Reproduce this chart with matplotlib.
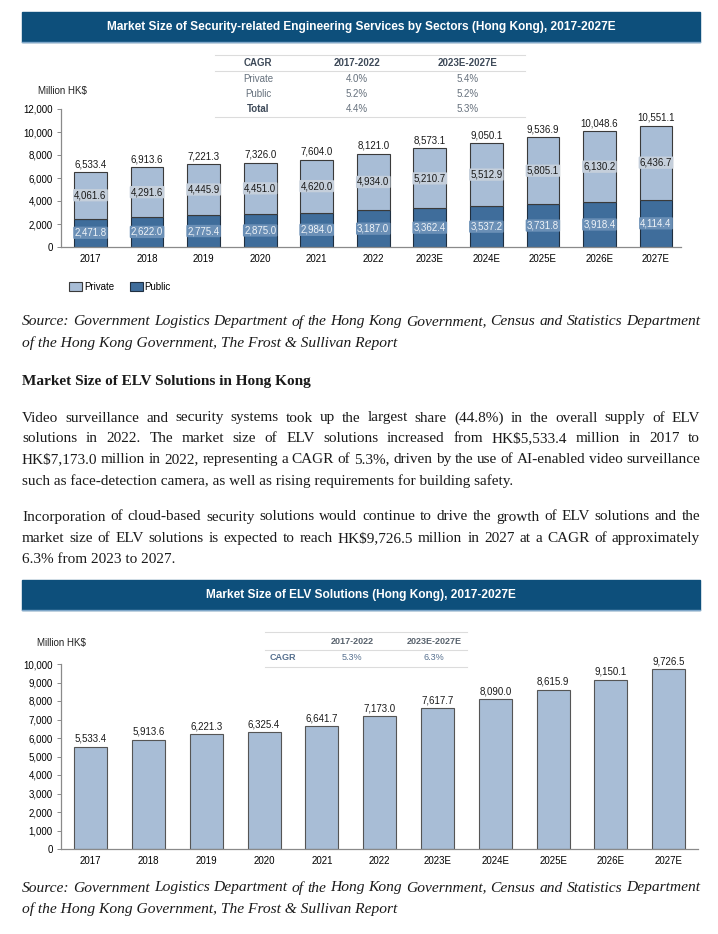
#
# Two market size charts from a Hong Kong prospectus page, plus the text
# block that sits between them.
#

import matplotlib
matplotlib.use('Agg')
import matplotlib.pyplot as plt
from matplotlib.lines import Line2D
from matplotlib.patches import Patch, Rectangle
import numpy as np

W, H = 718, 934

years = ['2017', '2018', '2019', '2020', '2021', '2022',
         '2023E', '2024E', '2025E', '2026E', '2027E']
private = [4061.6, 4291.6, 4445.9, 4451.0, 4620.0, 4934.0,
           5210.7, 5512.9, 5805.1, 6130.2, 6436.7]
public = [2471.8, 2622.0, 2775.4, 2875.0, 2984.0, 3187.0,
          3362.4, 3537.2, 3731.8, 3918.4, 4114.4]
total = [6533.4, 6913.6, 7221.3, 7326.0, 7604.0, 8121.0,
         8573.1, 9050.1, 9536.9, 10048.6, 10551.1]
elv = [5533.4, 5913.6, 6221.3, 6325.4, 6641.7, 7173.0,
       7617.7, 8090.0, 8615.9, 9150.1, 9726.5]

cagr1_cols = ['CAGR', '2017-2022', '2023E-2027E']
cagr1_rows = [['Private', '4.0%', '5.4%'],
              ['Public', '5.2%', '5.2%'],
              ['Total', '4.4%', '5.3%']]
cagr2_cols = ['', '2017-2022', '2023E-2027E']
cagr2_row = ['CAGR', '5.3%', '6.3%']

title1 = ('Market Size of Security-related Engineering Services by Sectors '
          '(Hong Kong), 2017-2027E')
title2 = 'Market Size of ELV Solutions (Hong Kong), 2017-2027E'
source = ['Source: Government Logistics Department of the Hong Kong '
          'Government, Census and Statistics Department',
          'of the Hong Kong Government, The Frost & Sullivan Report']
heading = 'Market Size of ELV Solutions in Hong Kong'
para1 = ['Video surveillance and security systems took up the largest share '
         '(44.8%) in the overall supply of ELV',
         'solutions in 2022. The market size of ELV solutions increased from '
         'HK$5,533.4 million in 2017 to',
         'HK$7,173.0 million in 2022, representing a CAGR of 5.3%, driven by '
         'the use of AI-enabled video surveillance',
         'such as face-detection camera, as well as rising requirements for '
         'building safety.']
para2 = ['Incorporation of cloud-based security solutions would continue to '
         'drive the growth of ELV solutions and the',
         'market size of ELV solutions is expected to reach HK$9,726.5 '
         'million in 2027 at a CAGR of approximately',
         '6.3% from 2023 to 2027.']

BANNER = '#0d4f7b'
LIGHT = '#a8bdd6'
DARK = '#3f6d9b'
SANS = ['Liberation Sans', 'DejaVu Sans']
SERIF = ['Liberation Serif', 'DejaVu Serif']
TXT_L, TXT_R = 22, 700


def fx(x):
    return x / W


def fy(y):
    return 1 - y / H


def px_axes(fig, x0, y0, x1, y1):
    """Add axes from pixel box (y measured from the top)."""
    return fig.add_axes([fx(x0), fy(y1), (x1 - x0) / W, (y1 - y0) / H])


def hline(fig, x0, x1, y, color='#dcdcdc', lw=0.8):
    fig.add_artist(Line2D([fx(x0), fx(x1)], [fy(y), fy(y)], color=color,
                          lw=lw, transform=fig.transFigure))


def banner(fig, y0, y1, text):
    fig.add_artist(Rectangle((fx(TXT_L), fy(y1)), (TXT_R - TXT_L) / W,
                             (y1 - y0) / H, color=BANNER,
                             transform=fig.transFigure))
    hline(fig, TXT_L, TXT_R, y1, color='#7fa7c9', lw=1.0)
    fig.text(0.5 * (fx(TXT_L) + fx(TXT_R)), fy((y0 + y1) / 2), text,
             color='white', fontsize=8.6, fontweight='bold', family=SANS,
             ha='center', va='center')


def fit_size(fig, renderer, line, width, **kw):
    """Font size at which a line of text is about `width` pixels wide."""
    t = fig.text(0, 0, line, fontsize=10, **kw)
    w = t.get_window_extent(renderer).width
    t.remove()
    return 10 * width / w


def justified(fig, renderer, lines, y0, step, size, **kw):
    """Write lines spread to the full text width, last one left aligned."""
    for i, line in enumerate(lines):
        y = fy(y0 + i * step)
        if i == len(lines) - 1:
            fig.text(fx(TXT_L), y, line, fontsize=size, va='center', **kw)
            continue
        words = line.split(' ')
        texts = [fig.text(0, y, w, fontsize=size, va='center', **kw)
                 for w in words]
        widths = [t.get_window_extent(renderer).width for t in texts]
        gap = (TXT_R - TXT_L - sum(widths)) / (len(words) - 1)
        x = TXT_L
        for t, w in zip(texts, widths):
            t.set_x(fx(x))
            x += w + gap


def style_axes(ax, x0px, x1px, c0, step, top):
    ax.set_xlim((x0px - c0) / step, (x1px - c0) / step)
    ax.set_ylim(0, top)
    for s in ['top', 'right']:
        ax.spines[s].set_visible(False)
    for s in ['left', 'bottom']:
        ax.spines[s].set_color('#8a8a8a')
        ax.spines[s].set_linewidth(0.9)
    ax.tick_params(axis='y', length=3, width=0.7, color='#8a8a8a',
                   labelsize=7, pad=3)
    ax.tick_params(axis='x', length=0, labelsize=7, pad=5)
    ax.set_xticks(np.arange(len(years)))
    ax.set_xticklabels(years, family=SANS)
    ax.yaxis.set_major_formatter(
        matplotlib.ticker.FuncFormatter(lambda v, p: f'{v:,.0f}'))
    for lab in ax.get_yticklabels():
        lab.set_family(SANS)
    ax.patch.set_alpha(0)


def main():
    fig = plt.figure(figsize=(W / 100, H / 100), dpi=100, facecolor='white')
    renderer = fig.canvas.get_renderer()
    x = np.arange(len(years))

    # ---- chart 1: stacked bars ----
    banner(fig, 12, 42, title1)
    ax1 = px_axes(fig, 61, 109, 681, 247)
    ax1.bar(x, public, 0.58, color=DARK, edgecolor='#1f2f40', lw=0.8)
    ax1.bar(x, private, 0.58, bottom=public, color=LIGHT,
            edgecolor='#3a3a3a', lw=0.8)
    style_axes(ax1, 61, 681, 90.5, 56.55, 12000)
    ax1.set_yticks(np.arange(0, 12001, 2000))
    for lab in ax1.get_yticklabels():
        lab.set_family(SANS)
    for i in range(len(years)):
        ax1.text(i, public[i] / 2, f'{public[i]:,.1f}', ha='center',
                 va='center', fontsize=7, color='#eef3f8', family=SANS,
                 bbox=dict(boxstyle='round,pad=0.12', fc='#6a8fb6', ec='none'))
        ax1.text(i, public[i] + private[i] / 2, f'{private[i]:,.1f}',
                 ha='center', va='center', fontsize=7, color='#1a1a1a',
                 family=SANS,
                 bbox=dict(boxstyle='round,pad=0.12', fc='#c5cfdb', ec='none'))
        ax1.annotate(f'{total[i]:,.1f}', (i, total[i]), xytext=(0, 2),
                     textcoords='offset points', ha='center', va='bottom',
                     fontsize=7, color='#1a1a1a', family=SANS,
                     annotation_clip=False)
    fig.text(fx(38), fy(91), 'Million HK$', fontsize=7, family=SANS,
             va='center', color='#222222')

    # CAGR table
    hline(fig, 215, 525, 55)
    hline(fig, 215, 525, 71)
    hline(fig, 215, 525, 117)
    col_x = [258, 357, 468]
    for cx, c in zip(col_x, cagr1_cols):
        fig.text(fx(cx), fy(63), c, fontsize=7, fontweight='bold',
                 family=SANS, ha='center', va='center', color='#3e4a59')
    for r, row in enumerate(cagr1_rows):
        for cx, c in zip(col_x, row):
            bold = 'bold' if row[0] == 'Total' and cx == col_x[0] else 'normal'
            fig.text(fx(cx), fy(79 + 15 * r), c, fontsize=7, family=SANS,
                     fontweight=bold, ha='center', va='center',
                     color='#3e4a59' if bold == 'bold' else '#66717d')

    handles = [Patch(fc=LIGHT, ec='#3a3a3a', lw=0.8, label='Private'),
               Patch(fc=DARK, ec='#1f2f40', lw=0.8, label='Public')]
    fig.legend(handles=handles, loc='center left', ncol=2, frameon=False,
               bbox_to_anchor=(fx(60), fy(287)), fontsize=7,
               handlelength=1.4, handleheight=1.1, handletextpad=0.15,
               columnspacing=1.6, prop={'family': SANS, 'size': 7})

    # ---- text block ----
    src_kw = dict(family=SERIF, style='italic', color='#1a1a1a')
    src_size = fit_size(fig, renderer, source[0], TXT_R - TXT_L, **src_kw)
    justified(fig, renderer, source, 322, 21, src_size, **src_kw)

    body_kw = dict(family=SERIF, color='#1a1a1a')
    body_size = fit_size(fig, renderer, para1[2], TXT_R - TXT_L, **body_kw)
    fig.text(fx(TXT_L), fy(382), heading, fontsize=body_size,
             fontweight='bold', va='center', **body_kw)
    justified(fig, renderer, para1, 418, 21, body_size, **body_kw)
    justified(fig, renderer, para2, 517, 21.3, body_size, **body_kw)

    # ---- chart 2: simple bars ----
    banner(fig, 580, 610, title2)
    ax2 = px_axes(fig, 61, 664, 698, 849)
    ax2.bar(x, elv, 0.57, color=LIGHT, edgecolor='#555555', lw=0.8)
    style_axes(ax2, 61, 698, 90.7, 57.8, 10000)
    ax2.set_yticks(np.arange(0, 10001, 1000))
    for lab in ax2.get_yticklabels():
        lab.set_family(SANS)
    for i in range(len(years)):
        ax2.annotate(f'{elv[i]:,.1f}', (i, elv[i]), xytext=(0, 2),
                     textcoords='offset points', ha='center', va='bottom',
                     fontsize=7, color='#1a1a1a', family=SANS,
                     annotation_clip=False)
    fig.text(fx(37), fy(643), 'Million HK$', fontsize=7, family=SANS,
             va='center', color='#222222')

    hline(fig, 265, 467, 632)
    hline(fig, 265, 467, 650)
    hline(fig, 265, 467, 667)
    col_x2 = [283, 352, 434]
    for cx, c in zip(col_x2, cagr2_cols):
        fig.text(fx(cx), fy(641), c, fontsize=6.5, fontweight='bold',
                 family=SANS, ha='center', va='center', color='#59636e')
    for cx, c in zip(col_x2, cagr2_row):
        fig.text(fx(cx), fy(658), c, fontsize=6.5, family=SANS,
                 fontweight='bold' if c == 'CAGR' else 'normal',
                 ha='center', va='center', color='#56708f')

    justified(fig, renderer, source, 888, 21, src_size, **src_kw)

    fig.savefig('out.png', dpi=100, facecolor='white')


if __name__ == "__main__":
    main()
